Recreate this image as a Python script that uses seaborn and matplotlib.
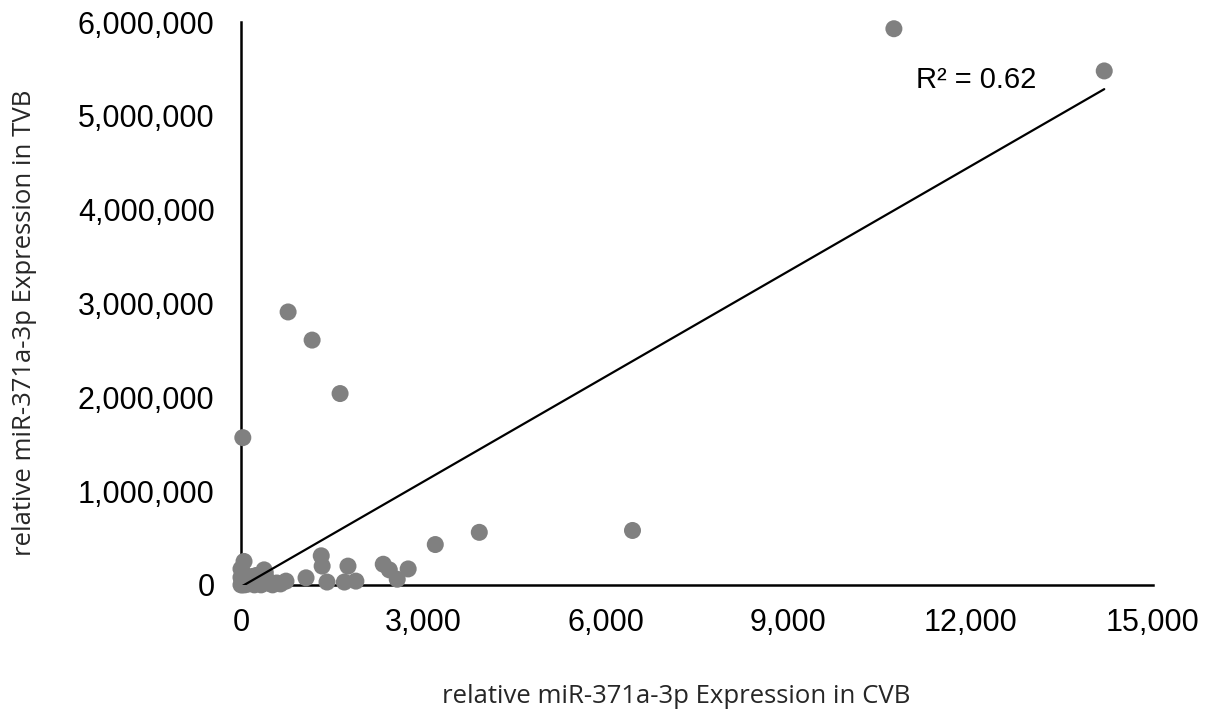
import numpy as np
import pandas as pd
import matplotlib
matplotlib.use("Agg")
import matplotlib.pyplot as plt
import seaborn as sns
from matplotlib.ticker import FuncFormatter

cvb = [30, 50, 0, 380, 60, 180, 300, 460, 590, 740, 20, 100, 1070, 1320, 1335, 1415,
       1700, 1760, 1890, 2340, 2440, 2570, 2750, 3196, 3920, 6440, 10740, 14200,
       775, 1170, 1630, 10, 250, 400,
       0, 40, 80, 120, 150, 220, 280, 350, 420, 520, 650, 0, 60, 200, 330, 500]
tvb = [1570000, 250000, 170000, 160000, 110000, 30000, 20000, 20000, 20000, 40000, 0, 10000,
       75000, 310000, 200000, 30000, 30000, 200000, 40000, 220000, 160000, 60000, 170000,
       430000, 560000, 580000, 5930000, 5480000, 2910000, 2610000, 2040000, 60000, 100000, 130000,
       0, 20000, 50000, 10000, 60000, 0, 40000, 10000, 60000, 0, 10000, 80000, 0, 90000, 0, 10000]

df = pd.DataFrame({"CVB": cvb, "TVB": tvb})

sns.set_theme(style="white")
plt.rcParams['font.family'] = ['Liberation Sans', 'DejaVu Sans']

fig = plt.figure(figsize=(12.11, 7.15), dpi=100)
ax = fig.add_axes([0.199, 0.182, 0.753, 0.787])

sns.scatterplot(data=df, x="CVB", y="TVB", ax=ax, color="#808080", s=150,
                edgecolor="none", zorder=3, clip_on=False)
coef = np.polyfit(df["CVB"], df["TVB"], 1)
xs = np.array([0, max(cvb)])
ax.plot(xs, coef[0] * xs + coef[1], color="black", lw=1.6, zorder=4)

ax.set_xlim(0, 15000)
ax.set_ylim(0, 6000000)
ax.set_xticks([0, 3000, 6000, 9000, 12000, 15000])
ax.set_yticks(np.arange(0, 6000001, 1000000))
fmt = FuncFormatter(lambda v, p: f"{int(v):,}")
ax.xaxis.set_major_formatter(fmt)
ax.yaxis.set_major_formatter(fmt)
ax.tick_params(axis='both', direction='out', length=7, width=1.5, color='black',
               labelsize=22, labelcolor='black')
ax.tick_params(axis='y', pad=12)
ax.tick_params(axis='x', pad=10)
for s in ["top", "right"]:
    ax.spines[s].set_visible(False)
for s in ["left", "bottom"]:
    ax.spines[s].set_color("black")
    ax.spines[s].set_linewidth(1.8)

ax.set_xlabel("relative miR-371a-3p Expression in CVB", fontsize=18.5,
              family=['Open Sans', 'DejaVu Sans'], va='center')
ax.set_ylabel("relative miR-371a-3p Expression in TVB", fontsize=18.5,
              family=['Open Sans', 'DejaVu Sans'], va='center')
ax.xaxis.set_label_coords(0.477, -0.199)
ax.yaxis.set_label_coords(-0.237, 0.465)

ax.text(11100, 5300000, "R² = 0.62", fontsize=21, color="black")

fig.savefig("out.png", dpi=100)
